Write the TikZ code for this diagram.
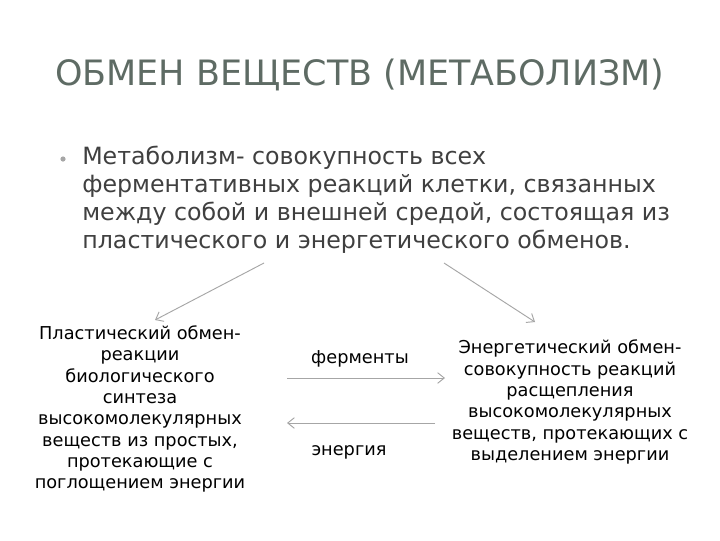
\documentclass[tikz,border=0pt]{standalone}
\usepackage{fontspec}
\setmainfont{DejaVu Sans}
\usetikzlibrary{arrows.meta,positioning}
\definecolor{titlegray}{HTML}{5E6B64}
\definecolor{bodygray}{HTML}{404040}
\definecolor{linegray}{HTML}{A6A6A6}

\begin{document}
\begin{tikzpicture}[
    x=0.75pt, y=-0.75pt,
    title/.style={font=\fontsize{26.2}{30}\selectfont, text=titlegray, anchor=west, inner sep=0pt},
    body/.style={font=\fontsize{17.8}{21}\selectfont, text=bodygray, anchor=north west, inner sep=0pt, align=left},
    box/.style={font=\fontsize{13.3}{16}\selectfont, align=center, inner sep=0pt},
    tag/.style={font=\fontsize{13.3}{15}\selectfont, inner sep=0pt},
    arrow/.style={-{Straight Barb[length=5pt,width=8pt]}, linegray, line width=0.7pt}
]
\useasboundingbox[fill=white] (0,0) rectangle (720,540);

% Heading
\node[title] (heading) at (55,75) {ОБМЕН ВЕЩЕСТВ (МЕТАБОЛИЗМ)};

% Definition
\fill[linegray] (63,159) circle (2.6);
\node[body] (defn) at (82,146) {Метаболизм- совокупность всех\\ферментативных реакций клетки, связанных\\между собой и внешней средой, состоящая из\\пластического и энергетического обменов.};

% Two kinds of exchange
\node[box] (plastic) at (140,409) {Пластический обмен-\\реакции\\биологического\\синтеза\\высокомолекулярных\\веществ из простых,\\протекающие с\\поглощением энергии};
\node[box] (energy) at (570,402) {Энергетический обмен-\\совокупность реакций\\расщепления\\высокомолекулярных\\веществ, протекающих с\\выделением энергии};

% Arrow ends
\coordinate (lstart) at (264,263);
\coordinate (lend) at (155,320);
\coordinate (rstart) at (444,263);
\coordinate (rend) at (535,322);
\coordinate (fstart) at (287,378);
\coordinate (fend) at (445,378);
\coordinate (estart) at (435,423);
\coordinate (eend) at (287,423);

\draw[arrow] (lstart) -- (lend);
\draw[arrow] (rstart) -- (rend);
\draw[arrow] (fstart) -- (fend);
\draw[arrow] (estart) -- (eend);

% Labels
\node[tag] (enzymes) at (360,359) {ферменты};
\node[tag] (power) at (349,452) {энергия};

\end{tikzpicture}
\end{document}
